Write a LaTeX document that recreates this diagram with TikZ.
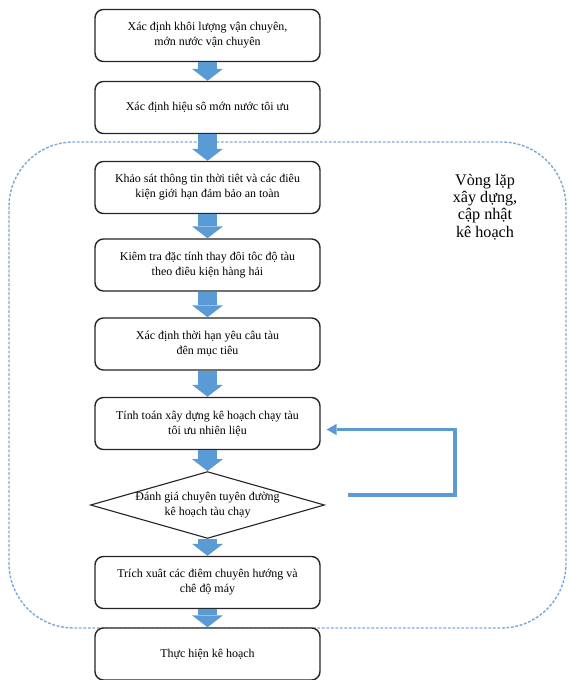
\documentclass[tikz,border=0pt]{standalone}
\usepackage{fontspec}
\setmainfont{Liberation Serif}
\usetikzlibrary{arrows.meta,shapes.geometric}
\definecolor{fblue}{HTML}{5B9BD5}
\definecolor{floop}{HTML}{7FA7D4}
\tikzset{
 stepbox/.style={draw=black!85,line width=1pt,rounded corners=6pt,fill=white,minimum width=160pt,minimum height=37pt,align=center,inner sep=2pt,font=\fontsize{8.5}{10.5}\selectfont},
 checkbox/.style={draw=black!85,line width=0.8pt,shape=diamond,aspect=3.5,minimum width=160pt,minimum height=46pt,inner sep=0pt,align=center,font=\fontsize{8.5}{10.5}\selectfont},
 blockarrow/.style={draw=fblue,line width=13.5pt,-{Triangle[width=22pt,length=8.5pt,line width=0pt]}},
 loopline/.style={draw=fblue,line width=2.2pt,-{Triangle[width=8pt,length=7pt,line width=0pt]}},
 loopframe/.style={draw=floop,line width=1pt,dash pattern=on 2pt off 1.2pt,rounded corners=46pt}
}
\begin{document}
\begin{tikzpicture}[x=0.025cm,y=-0.025cm]
 \useasboundingbox (0,0) rectangle (568,680);
 \draw[loopframe] (9,142) rectangle (566,628);
 \node[align=center,font=\fontsize{11.5}{12.2}\selectfont] (looplabel) at (485,207) {Vòng lặp\\xây dựng,\\cập nhật\\kê hoạch};
 \node[stepbox] (b1) at (207.5,35.5) {Xác định khôi lượng vận chuyên,\\mớn nước vận chuyên};
 \node[stepbox] (b2) at (207.5,107.5) {Xác định hiệu sô mớn nước tôi ưu};
 \node[stepbox] (b3) at (207.5,187.5) {Khảo sát thông tin thời tiêt và các điêu\\kiện giới hạn đảm bảo an toàn};
 \node[stepbox] (b4) at (207.5,265) {Kiêm tra đặc tính thay đôi tôc độ tàu\\theo điêu kiện hàng hải};
 \node[stepbox] (b5) at (207.5,344) {Xác định thời hạn yêu câu tàu\\đên mục tiêu};
 \node[stepbox] (b6) at (207.5,423.5) {Tính toán xây dựng kê hoạch chạy tàu\\tôi ưu nhiên liệu};
 \node[checkbox] (d1) at (207.5,505) {Đánh giá chuyên tuyên đường\\kê hoạch tàu chạy};
 \node[stepbox] (b7) at (207.5,582.5) {Trích xuât các điêm chuyên hướng và\\chê độ máy};
 \node[stepbox] (b8) at (207.5,654) {Thực hiện kê hoạch};
 \foreach \a/\b in {b1/b2,b2/b3,b3/b4,b4/b5,b5/b6,b6/d1,d1/b7,b7/b8}
  \draw[blockarrow] (\a.south) -- (\b.north);
 \coordinate (fbstart) at (348,495);
 \draw[loopline] (fbstart) -- ++(107,0) |- ([shift={(6,6)}]b6.east);
\end{tikzpicture}
\end{document}
